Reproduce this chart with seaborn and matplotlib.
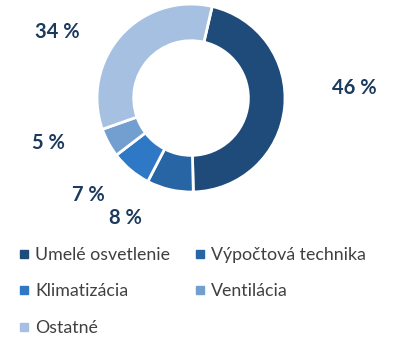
import matplotlib
matplotlib.use("Agg")
import matplotlib.pyplot as plt
from matplotlib.lines import Line2D
import seaborn as sns

# data
categories = ["Umelé osvetlenie", "Výpočtová technika", "Klimatizácia", "Ventilácia", "Ostatné"]
shares = [46, 8, 7, 5, 34]
colors = ["#1F4B7A", "#2865A5", "#2F78C6", "#739FD0", "#A6C0E2"]

sns.set_theme(style="white")
plt.rcParams["font.family"] = ["Lato", "DejaVu Sans"]

fig = plt.figure(figsize=(4.0, 3.38), dpi=100)
ax = fig.add_axes([0, 108 / 338, 1, 230 / 338])

wedges, _ = ax.pie(shares, colors=colors, startangle=77, counterclock=False,
                   radius=1.0, wedgeprops=dict(width=0.39, edgecolor="white", linewidth=2))
ax.set_xlim(-2.032, 2.223)
ax.set_ylim(-1.404, 1.043)
ax.set_aspect("equal")
ax.axis("off")

# label spots (x, y) around the ring, in pie units
label_pos = [(1.74, 0.11), (-0.70, -1.28), (-1.09, -1.03), (-1.52, -0.48), (-1.42, 0.70)]
for val, (lx, ly) in zip(shares, label_pos):
    ax.text(lx, ly, f"{val} %", ha="center", va="center", fontsize=14.5,
            fontweight="bold", color="#1B3A5E")

# legend in row-major order
order = [0, 2, 4, 1, 3]
handles = [Line2D([], [], marker="s", linestyle="none", markersize=5.5,
                  markerfacecolor=colors[i], markeredgecolor=colors[i]) for i in order]
labels = [categories[i] for i in order]
leg = fig.legend(handles, labels, loc="upper left", bbox_to_anchor=(3 / 400, 1 - 231 / 338),
                 ncol=2, frameon=False, fontsize=12.8, labelspacing=1.15,
                 handlelength=0.55, handletextpad=0.35, columnspacing=1.4)
for t in leg.get_texts():
    t.set_color("#404040")

fig.savefig("out.png", dpi=100)
